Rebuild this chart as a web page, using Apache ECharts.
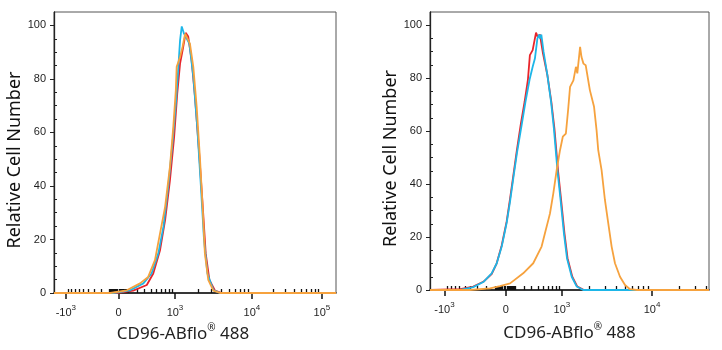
<!DOCTYPE html>
<html>
<head>
<meta charset="utf-8">
<script src="https://cdn.jsdelivr.net/npm/echarts@6/dist/echarts.min.js"></script>
<style>
  html, body { margin: 0; padding: 0; background: #fff; }
  #chart { width: 722px; height: 350px; }
</style>
</head>
<body>
<div id="chart"></div>
<script>
// x positions are display channels (0-100 across each axis), y is relative cell number
const yMajorTicks = [0, 20, 40, 60, 80, 100];
const yMinorTicks = [5, 10, 15, 25, 30, 35, 45, 50, 55, 65, 70, 75, 85, 90, 95];

// fluorescence values of labelled ticks and where they sit on the display (channel)
const leftTickValues = [-1000, 0, 1000, 10000, 100000];
const leftTickChannels = [4.2, 22.9, 42.9, 70.2, 95.0];
const rightTickValues = [-1000, 0, 1000, 10000];
const rightTickChannels = [5.2, 27.2, 47.3, 79.6];

// minor tick fluorescence values
const minorTickValues = [
  -9000, -8000, -7000, -6000, -5000, -4000, -3000, -2000,
  -900, -800, -700, -600, -500, -400, -300, -200, -100,
  -90, -80, -70, -60, -50, -40, -30, -20, -10,
  10, 20, 30, 40, 50, 60, 70, 80, 90,
  100, 200, 300, 400, 500, 600, 700, 800, 900,
  2000, 3000, 4000, 5000, 6000, 7000, 8000, 9000,
  20000, 30000, 40000, 50000, 60000, 70000, 80000, 90000,
  200000, 300000
];

// left panel histograms [channel, count]
const leftRed = [
  [0, 0], [22.2, 0], [28.1, 0.9], [32.9, 3], [35.2, 7.3], [37.6, 16], [39.4, 27.2],
  [41.1, 42], [42.6, 58.3], [43.7, 74.5], [44.7, 85.7], [45.6, 90.7], [46.7, 97.2],
  [47.6, 95.8], [48.8, 87], [50.0, 73.3], [51.4, 53.4], [52.6, 34.7], [53.8, 14.8],
  [55.1, 4.9], [57.1, 0.9], [59.5, 0], [100, 0]
];
const leftCyan = [
  [0, 0], [21.0, 0], [27.0, 1], [31.7, 3.6], [34.6, 7.3], [37.0, 14.8], [38.8, 24.7],
  [40.5, 39.7], [42.1, 57], [43.3, 72], [44.1, 84.5], [44.7, 94.4], [45.3, 99.6],
  [46.1, 96.9], [47.1, 95], [48.0, 93.2], [49.4, 80.8], [50.8, 62], [52.1, 39.7],
  [53.2, 19.8], [54.4, 7.3], [56.5, 1.1], [58.9, 0], [100, 0]
];
const leftOrange = [
  [0, 0], [19.9, 0], [25.8, 1], [30.5, 3.6], [33.4, 6], [35.8, 12.3], [37.6, 22.3],
  [39.4, 32.2], [41.1, 47], [42.3, 62], [43.2, 75.7], [43.5, 84.5], [44.7, 88.2],
  [45.6, 92], [46.5, 96.9], [47.1, 97.2], [48.2, 93.2], [49.4, 84.5], [50.6, 69.5],
  [51.8, 49.6], [52.7, 32.2], [53.5, 14.8], [54.7, 4.9], [56.5, 0.9], [58.9, 0], [100, 0]
];

// right panel histograms [channel, count]
const rightRed = [
  [0, 0], [10.8, 0.3], [15.5, 1.3], [19.1, 3.1], [22.1, 6], [23.9, 10.1], [25.7, 16.8],
  [27.5, 26], [28.7, 34.5], [29.9, 43.5], [31.1, 52.5], [32.6, 63], [33.9, 71],
  [35.1, 79.5], [35.8, 88.7], [36.8, 90.6], [38.0, 97.2], [38.6, 95.6], [39.4, 96.5],
  [40.4, 89.9], [42.1, 81], [43.5, 71], [44.6, 61], [45.9, 45], [47.0, 34],
  [48.2, 21.4], [49.3, 12], [51.0, 5], [52.8, 1.3], [55.2, 0], [100, 0]
];
const rightCyan = [
  [0, 0], [10.8, 0], [15.5, 1.1], [19.1, 3], [22.1, 6.3], [23.9, 10], [25.7, 16.4],
  [27.5, 25.5], [28.7, 33.5], [29.9, 42.5], [31.2, 52], [32.8, 62], [34.2, 71],
  [35.7, 79.5], [36.8, 84.3], [37.6, 87.4], [38.5, 95], [39.1, 96.5], [39.4, 95],
  [39.9, 96.5], [40.7, 90], [42.1, 81], [43.4, 71], [44.4, 61], [45.7, 45],
  [46.8, 34], [48.0, 21.4], [49.1, 12], [50.8, 5], [52.6, 1.3], [54.9, 0], [100, 0]
];
const rightOrange = [
  [0, 0], [14.3, 0], [21.5, 0.6], [25.1, 1.5], [28.7, 2.5], [33.4, 6.3], [37.0, 10.1],
  [40.0, 16.4], [41.2, 21.4], [42.4, 26.4], [43.0, 28.9], [44.2, 36.5], [45.4, 45.3],
  [46.6, 52.8], [47.6, 57.9], [48.7, 59.1], [49.5, 68], [50.2, 76.7], [51.4, 79.2],
  [52.3, 84.3], [52.8, 81.8], [53.8, 91.8], [54.3, 88], [55.0, 85.5], [55.8, 84.9],
  [57.3, 75.5], [58.8, 69.2], [59.7, 60.4], [60.3, 52.8], [61.5, 45.3], [62.7, 34],
  [63.9, 25.2], [65.1, 16.4], [66.3, 10.1], [68.1, 5], [69.9, 1.9], [71.7, 0.3],
  [74.2, 0], [100, 0]
];

const COLORS = { red: '#e8252b', cyan: '#1db6e8', orange: '#f6a23e' };
const TEXT = '#1e1e1e';

// biexponential-like display: linear-ish around 0, log per decade above 10^3
function makeChannel(values, channels) {
  const p0 = channels[values.indexOf(0)];
  const pNeg = channels[values.indexOf(-1000)];
  const pPos = channels[values.indexOf(1000)];
  const decade = channels[values.indexOf(10000)] - pPos;
  const w = 300;
  const norm = Math.asinh(1000 / w);
  return (v) => {
    if (v >= 1000) {
      const k = Math.floor(Math.log10(v) + 1e-9);
      const i = values.indexOf(Math.pow(10, k));
      const base = i >= 0 ? channels[i] : pPos + (k - 3) * decade;
      let width = decade;
      const j = values.indexOf(Math.pow(10, k + 1));
      if (i >= 0 && j >= 0) width = channels[j] - channels[i];
      else if (i > 0 && values[i - 1] >= 1000) width = channels[i] - channels[i - 1];
      return base + (Math.log10(v) - k) * width;
    }
    if (v >= 0) return p0 + (pPos - p0) * Math.asinh(v / w) / norm;
    if (v > -1000) return p0 - (p0 - pNeg) * Math.asinh(-v / w) / norm;
    return pNeg - (Math.log10(-v) - 3) * decade;
  };
}

function tickLabel(v) {
  if (v === 0) return '{b|0}';
  const e = Math.round(Math.log10(Math.abs(v)));
  return '{b|' + (v < 0 ? '-10' : '10') + '}{e|' + e + '}';
}

const labelRich = {
  b: { fontFamily: 'Liberation Sans', fontSize: 11, color: TEXT, lineHeight: 14, verticalAlign: 'bottom' },
  e: { fontFamily: 'Liberation Sans', fontSize: 8, color: TEXT, verticalAlign: 'top' }
};

function buildPanel(idx, tickValues, tickChannels, series, namePadX, nameGapX) {
  const chan = makeChannel(tickValues, tickChannels);
  const minorChannels = minorTickValues.map(chan).filter((c) => c > 0.3 && c < 99.7);
  const xAxes = [
    {
      type: 'value', gridIndex: idx, min: 0, max: 100,
      axisLine: { show: true, lineStyle: { color: '#111', width: 1.5 } },
      axisTick: { show: true, customValues: tickChannels, length: 6, lineStyle: { color: '#111', width: 1.5 } },
      axisLabel: {
        customValues: tickChannels, margin: 11,
        formatter: (val) => {
          const i = tickChannels.findIndex((c) => Math.abs(c - val) < 1e-6);
          return i >= 0 ? tickLabel(tickValues[i]) : '';
        },
        rich: labelRich
      },
      splitLine: { show: false },
      name: 'CD96-ABflo{r|®} 488',
      nameLocation: 'middle',
      nameGap: nameGapX,
      nameTextStyle: {
        fontFamily: 'Noto Sans', fontSize: 17, color: '#222', padding: namePadX, lineHeight: 22,
        rich: { r: { fontFamily: 'Noto Sans', fontSize: 10, color: '#222', verticalAlign: 'top' } }
      }
    },
    {
      type: 'value', gridIndex: idx, min: 0, max: 100,
      axisLine: { show: false },
      axisTick: { show: true, customValues: minorChannels, length: 4, lineStyle: { color: '#111', width: 1.3 } },
      axisLabel: { show: false },
      splitLine: { show: false }
    }
  ];
  const yAxes = [
    {
      type: 'value', gridIndex: idx, min: 0, max: 105,
      axisLine: { show: true, lineStyle: { color: '#222', width: 1.3 } },
      axisTick: { show: true, customValues: yMajorTicks, length: 4, lineStyle: { color: '#222' } },
      axisLabel: {
        customValues: yMajorTicks, margin: 8,
        fontFamily: 'Liberation Sans', fontSize: 11, color: TEXT
      },
      splitLine: { show: false },
      name: 'Relative Cell Number',
      nameLocation: 'middle',
      nameGap: 28,
      nameTextStyle: { fontFamily: 'Noto Sans', fontSize: 18, color: '#111', padding: [0, 15, 0, 0] }
    },
    {
      type: 'value', gridIndex: idx, min: 0, max: 105,
      axisLine: { show: false },
      axisTick: { show: true, customValues: yMinorTicks, length: 3, lineStyle: { color: '#222' } },
      axisLabel: { show: false },
      splitLine: { show: false }
    }
  ];
  const lines = [
    ['red', series[0]], ['cyan', series[1]], ['orange', series[2]]
  ].map(([c, data]) => ({
    type: 'line', xAxisIndex: idx * 2, yAxisIndex: idx * 2, data: data,
    symbol: 'none', lineStyle: { color: COLORS[c], width: 1.8 }, z: 3
  }));
  return { xAxes, yAxes, lines };
}

const chart = echarts.init(document.getElementById('chart'), null, { renderer: 'canvas' });
const left = buildPanel(0, leftTickValues, leftTickChannels, [leftRed, leftCyan, leftOrange], [0, 24, 0, 0], 29);
const right = buildPanel(1, rightTickValues, rightTickChannels, [rightRed, rightCyan, rightOrange], [0, 0, 0, 0], 32);

chart.setOption({
  animation: false,
  backgroundColor: '#fff',
  grid: [
    { left: 54, right: 386, top: 12, bottom: 57, show: true, borderColor: '#555', borderWidth: 1, backgroundColor: 'transparent' },
    { left: 430, right: 13, top: 12, bottom: 60, show: true, borderColor: '#555', borderWidth: 1, backgroundColor: 'transparent' }
  ],
  xAxis: [...left.xAxes, ...right.xAxes],
  yAxis: [...left.yAxes, ...right.yAxes],
  series: [...left.lines, ...right.lines]
});
</script>
</body>
</html>
